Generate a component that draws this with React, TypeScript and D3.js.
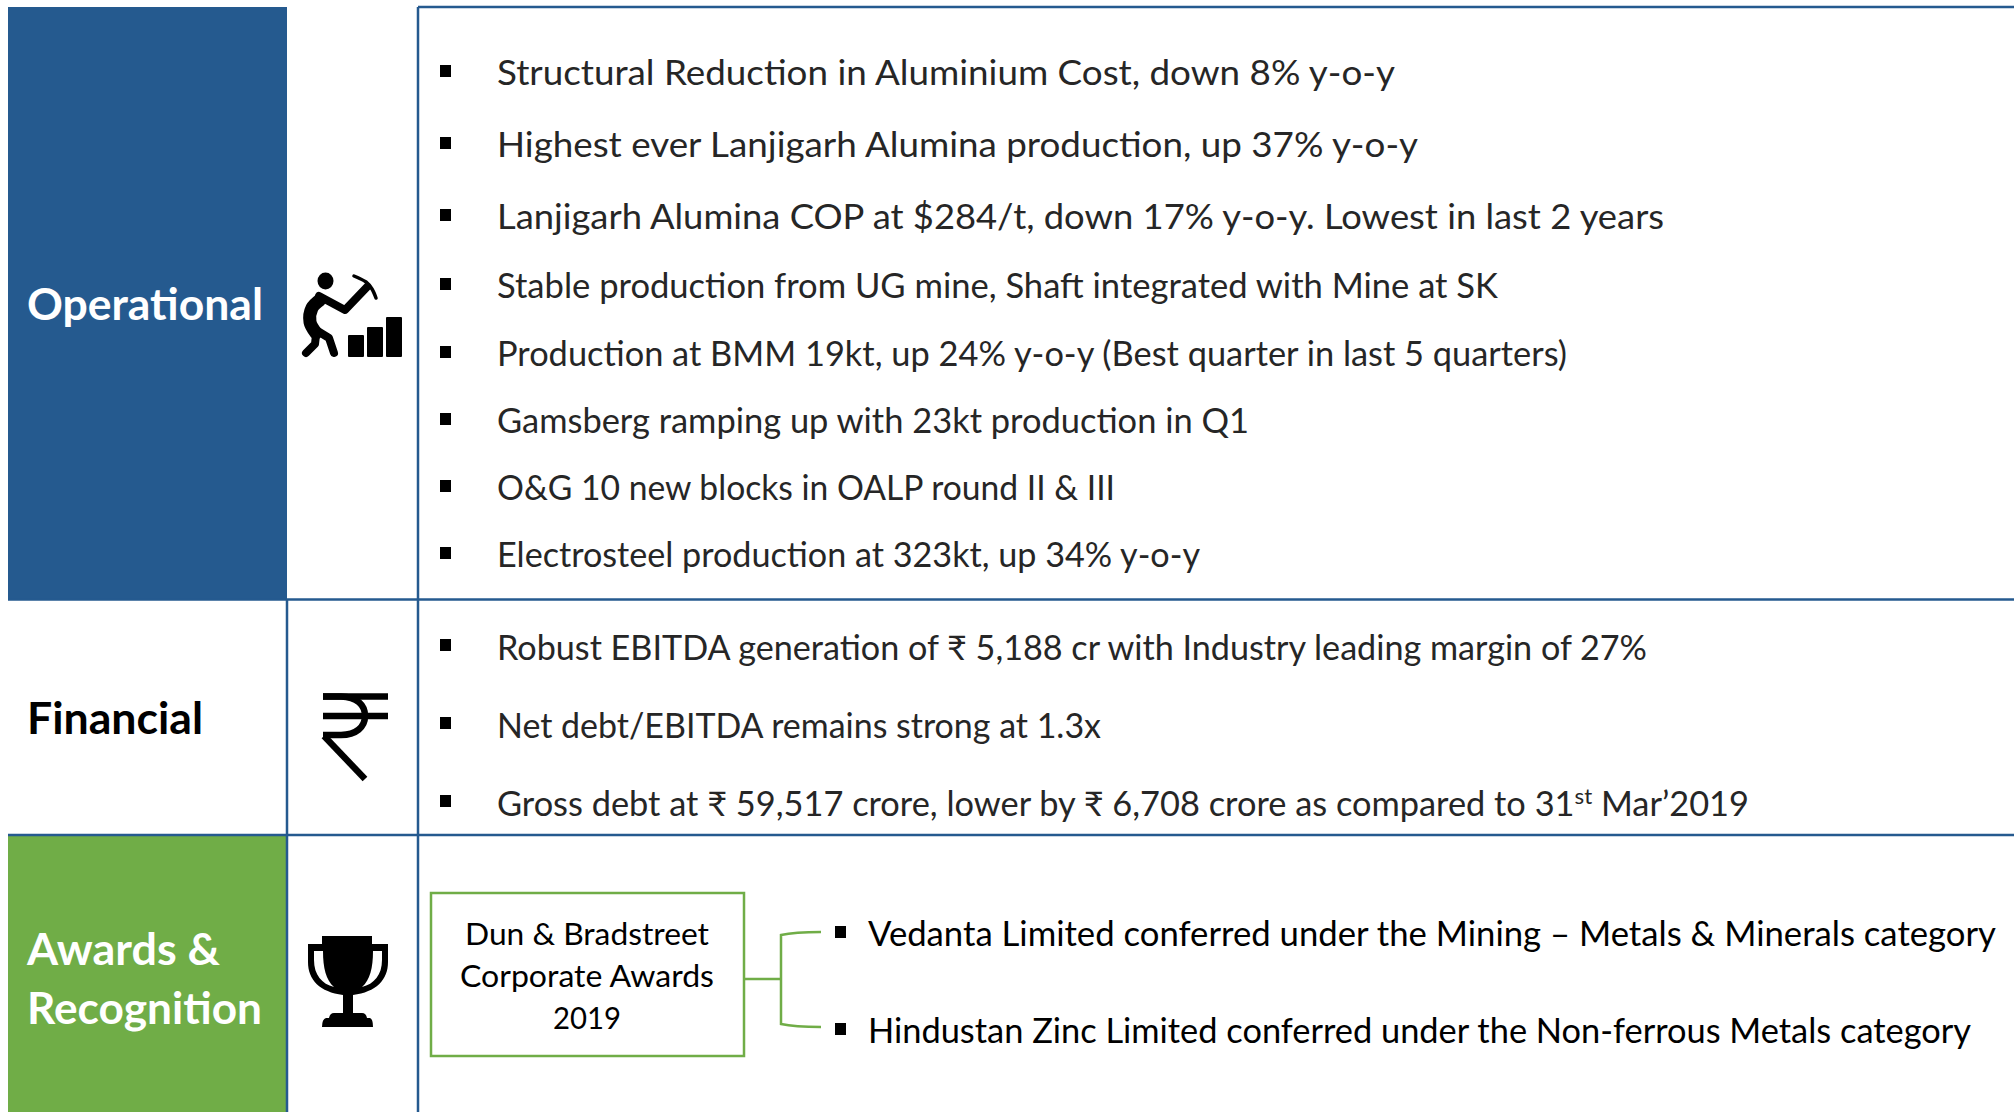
import * as d3 from 'd3';

const BLUE = '#255a8f';
const GREEN = '#70ad47';
const FONT = 'Lato, "Noto Sans", sans-serif';

// text of the slide, "^st^" marks a superscript
const operationalItems = [
  'Structural Reduction in Aluminium Cost, down 8% y-o-y',
  'Highest ever Lanjigarh Alumina production, up 37% y-o-y',
  'Lanjigarh Alumina COP at $284/t, down 17% y-o-y. Lowest in last 2 years',
  'Stable production from UG mine, Shaft integrated with Mine at SK',
  'Production at BMM 19kt, up 24% y-o-y (Best quarter in last 5 quarters)',
  'Gamsberg ramping up with 23kt production in Q1',
  'O&G 10 new blocks in OALP round II & III',
  'Electrosteel production at 323kt, up 34% y-o-y',
];
const financialItems = [
  'Robust EBITDA generation of ₹ 5,188 cr with Industry leading margin of 27%',
  'Net debt/EBITDA remains strong at 1.3x',
  'Gross debt at ₹ 59,517 crore, lower by ₹ 6,708 crore as compared to 31^st^ Mar’2019',
];
const awardItems = [
  'Vedanta Limited conferred under the Mining – Metals & Minerals category',
  'Hindustan Zinc Limited conferred under the Non-ferrous Metals category',
];
const boxLines = ['Dun & Bradstreet', 'Corporate Awards', '2019'];

// layout
const operationalBase = [85, 157, 229, 298, 366, 433, 500, 567];
const operationalEnd = [1395, 1418, 1664, 1498, 1567, 1249, 1115, 1200];
const financialBase = [660, 738, 816];
const financialEnd = [1647, 1101, 1749];
const awardBase = [946, 1043];
const awardEnd = [1996, 1971];
const boxBase = [945, 987, 1029];
const boxWidth = [244, 254, 68];

function Item({ x, y, end, text, size = 34, fill = '#262626' }: any) {
  const parts = text.split('^');
  return (
    <text x={x} y={y} fontSize={size} fill={fill} textLength={end - x} lengthAdjust="spacingAndGlyphs">
      {parts.map((p: string, i: number) => (
        <tspan key={i} dy={i === 0 ? 0 : i % 2 ? -12 : 12} fontSize={i % 2 ? 22 : size}>{p}</tspan>
      ))}
    </text>
  );
}

function Bullet({ x, y }: any) {
  return <rect x={x} y={y - 6} width={11} height={12} fill="#000" />;
}

function Miner() {
  const line = d3.line().curve(d3.curveCatmullRom);
  return (
    <g fill="#000" stroke="#000" strokeLinecap="round" strokeLinejoin="round">
      <ellipse cx={325.5} cy={281} rx={8} ry={8.5} stroke="none" />
      <path d={line([[320, 300], [312, 308], [310, 322], [316, 333]]) as string} fill="none" strokeWidth={13} />
      <path d="M319 296 L345 310 L367 287" fill="none" strokeWidth={8} />
      <path d={line([[354, 276], [366, 282], [372, 289], [376, 298]]) as string} fill="none" strokeWidth={3.5} />
      <path d="M316 335 L315 344 L306 353" fill="none" strokeWidth={8} />
      <path d="M316 330 L329 338 L334 353" fill="none" strokeWidth={8} />
      <g stroke="none">
        <rect x={348} y={335} width={16} height={22} rx={1} />
        <rect x={367} y={327} width={16} height={30} rx={1} />
        <rect x={386} y={317} width={16} height={40} rx={1} />
      </g>
    </g>
  );
}

function Rupee() {
  return (
    <g fill="none" stroke="#000" strokeWidth={6.5}>
      <path d="M323 696.5 H388" />
      <path d="M323 716 H388" />
      <path d="M323 696.5 H341 C357 697 365 705 365 716 C365 727 356 735 341 735 H323" />
      <path d="M324 736 L365 779" />
    </g>
  );
}

function Trophy() {
  return (
    <g>
      <path
        d="M322 936 H372 V944 H388 V962 C388 980 376 992 353 995 V1013 H362 Q366 1013 367 1018 H370 Q373 1019 373 1027 H322 Q322 1019 326 1018 H329 Q330 1013 334 1013 H343 V995 C320 992 308 980 308 962 V944 H322 Z"
        fill="#000"
      />
      <path d="M314 951 H323 C323 968 326 980 334 987 C322 984 314 975 314 960 Z" fill="#fff" />
      <path d="M382 951 H373 C373 968 370 980 362 987 C374 984 382 975 382 960 Z" fill="#fff" />
    </g>
  );
}

export default function App() {
  return (
    <svg width={2014} height={1112} viewBox="0 0 2014 1112" fontFamily={FONT}
      style={{ position: 'absolute', left: 0, top: 0, background: '#fff' }}>
      <rect x={8} y={7} width={279} height={593} fill={BLUE} />
      <rect x={8} y={835} width={278} height={277} fill={GREEN} />

      <g stroke={BLUE} strokeWidth={2.5} fill="none">
        <path d="M418 7 H2014" />
        <path d="M8 599.5 H2014" />
        <path d="M8 835 H2014" />
        <path d="M287 599 V1112" />
        <path d="M418 7 V1112" />
      </g>

      <g fontWeight={700} fontSize={44}>
        <text x={27} y={320} fill="#fff" textLength={236} lengthAdjust="spacingAndGlyphs">Operational</text>
        <text x={27} y={734} fill="#000" textLength={176} lengthAdjust="spacingAndGlyphs">Financial</text>
        <text x={27} y={965} fill="#fff" textLength={193} lengthAdjust="spacingAndGlyphs">Awards &amp;</text>
        <text x={27} y={1024} fill="#fff" textLength={235} lengthAdjust="spacingAndGlyphs">Recognition</text>
      </g>

      <Miner />
      <Rupee />
      <Trophy />

      {operationalItems.map((t, i) => (
        <g key={t}>
          <Bullet x={440} y={operationalBase[i] - 14} />
          <Item x={497} y={operationalBase[i]} end={operationalEnd[i]} text={t} />
        </g>
      ))}
      {financialItems.map((t, i) => (
        <g key={t}>
          <Bullet x={440} y={financialBase[i] - 15} />
          <Item x={497} y={financialBase[i]} end={financialEnd[i]} text={t} />
        </g>
      ))}

      <rect x={431} y={893} width={313} height={163} fill="none" stroke={GREEN} strokeWidth={2.5} />
      {boxLines.map((t, i) => (
        <text key={t} x={587} y={boxBase[i]} fontSize={31} fill="#000" textAnchor="middle"
          textLength={boxWidth[i]} lengthAdjust="spacingAndGlyphs">{t}</text>
      ))}
      <g fill="none" stroke={GREEN} strokeWidth={2.5}>
        <path d="M745 979 H781" />
        <path d="M821 932 C800 932 790 933 781 935 V1024 C790 1026 800 1027 821 1027" />
      </g>

      {awardItems.map((t, i) => (
        <g key={t}>
          <Bullet x={835} y={awardBase[i] - 14} />
          <Item x={868} y={awardBase[i]} end={awardEnd[i]} text={t} fill="#000" />
        </g>
      ))}
    </svg>
  );
}
